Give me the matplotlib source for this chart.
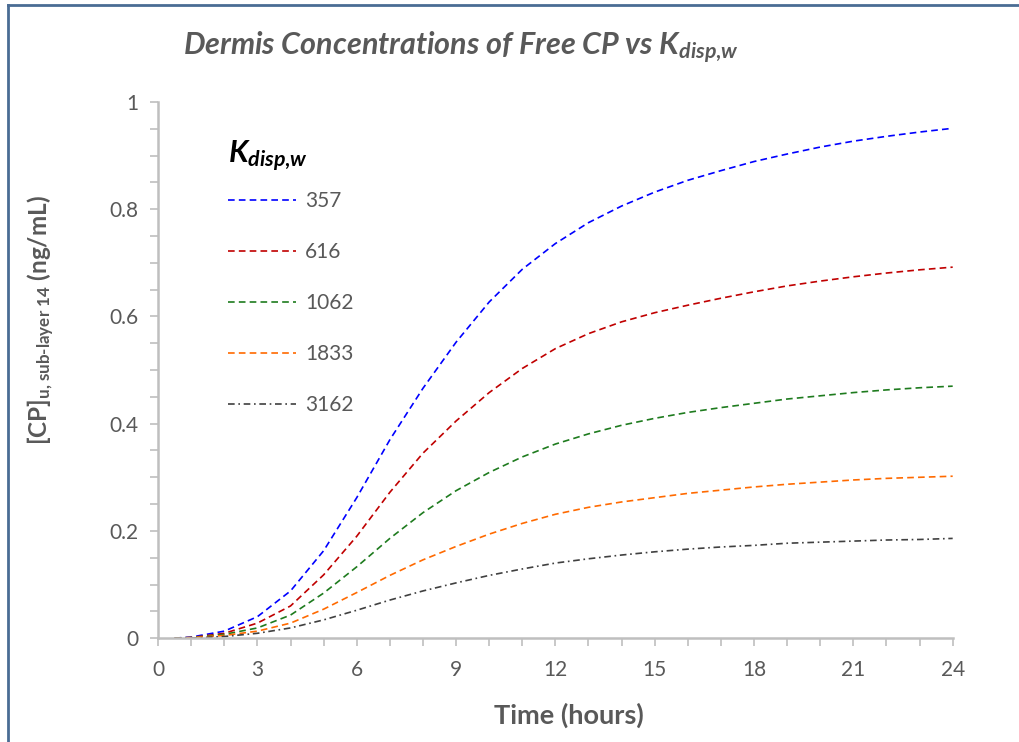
#!/usr/bin/env python3
# -*- coding: utf-8 -*-
import matplotlib
matplotlib.use('Agg')
import matplotlib.pyplot as plt
from matplotlib.lines import Line2D
from matplotlib.ticker import MultipleLocator, FuncFormatter

# time points (hours) and free CP concentration in dermis sub-layer 14 (ng/mL)
hours = [0.5] + list(range(1, 25))
kdisp_labels = ['357', '616', '1062', '1833', '3162']

cp_357 = [0, 0.002, 0.013, 0.040, 0.088, 0.163, 0.262, 0.370, 0.466, 0.552, 0.627,
          0.688, 0.736, 0.775, 0.806, 0.832, 0.854, 0.872, 0.889, 0.903, 0.916,
          0.927, 0.936, 0.944, 0.951]
cp_616 = [0, 0.001, 0.009, 0.028, 0.060, 0.118, 0.190, 0.272, 0.345, 0.405, 0.458,
          0.503, 0.540, 0.568, 0.590, 0.607, 0.621, 0.634, 0.646, 0.657, 0.666,
          0.674, 0.681, 0.687, 0.692]
cp_1062 = [0, 0.001, 0.007, 0.019, 0.043, 0.084, 0.133, 0.186, 0.234, 0.275, 0.309,
           0.338, 0.362, 0.381, 0.397, 0.410, 0.421, 0.430, 0.438, 0.446, 0.452,
           0.458, 0.463, 0.467, 0.470]
cp_1833 = [0, 0.001, 0.005, 0.013, 0.028, 0.054, 0.085, 0.117, 0.146, 0.171, 0.194,
           0.214, 0.231, 0.244, 0.254, 0.262, 0.270, 0.276, 0.282, 0.287, 0.291,
           0.295, 0.298, 0.300, 0.302]
cp_3162 = [0, 0.0, 0.003, 0.009, 0.019, 0.034, 0.052, 0.071, 0.088, 0.103, 0.117,
           0.129, 0.140, 0.148, 0.155, 0.161, 0.166, 0.170, 0.173, 0.177, 0.179,
           0.181, 0.183, 0.184, 0.186]

series = [cp_357, cp_616, cp_1062, cp_1833, cp_3162]
colors = ['#0000FF', '#C00000', '#1E7B1E', '#FF6A00', '#404040']
dashes = [(4, 2.5), (4, 2.5), (4, 2.5), (4, 2.5), (4, 2.2, 1, 2.2)]

gray_txt = '#595959'
plt.rcParams['font.family'] = ['Lato', 'DejaVu Sans']
plt.rcParams['mathtext.fontset'] = 'custom'
plt.rcParams['mathtext.rm'] = 'Lato:bold'
plt.rcParams['mathtext.bf'] = 'Lato:bold'
plt.rcParams['mathtext.it'] = 'Lato:bold:italic'

fig = plt.figure(figsize=(10.2, 7.42), dpi=100)
ax = fig.add_axes([0.155, 0.140, 0.779, 0.7225])

for y, c, d, lab in zip(series, colors, dashes, kdisp_labels):
    ax.plot(hours, y, color=c, lw=1.2, dashes=d, label=lab)

ax.set_xlim(0, 24)
ax.set_ylim(0, 1)
ax.xaxis.set_major_locator(MultipleLocator(3))
ax.xaxis.set_minor_locator(MultipleLocator(1))
ax.yaxis.set_major_locator(MultipleLocator(0.2))
ax.yaxis.set_minor_locator(MultipleLocator(0.05))
ax.yaxis.set_major_formatter(FuncFormatter(lambda v, p: f'{v:g}'))

for s in ['top', 'right']:
    ax.spines[s].set_visible(False)
for s in ['left', 'bottom']:
    ax.spines[s].set_color('#BFBFBF')
    ax.spines[s].set_linewidth(1.8)
ax.tick_params(which='both', direction='out', color='#BFBFBF', width=1.2, length=6)
ax.tick_params(which='major', labelsize=15, labelcolor=gray_txt, pad=8)
ax.tick_params(axis='x', which='major', pad=10)

ax.set_xlabel('Time (hours)', fontsize=19.5, fontweight='bold', color=gray_txt)
ax.xaxis.set_label_coords(0.517, -0.121)
ax.set_ylabel(r'[CP]$_{\text{u, sub-layer 14}}$ (ng/mL)', fontsize=17.5,
              fontweight='bold', color=gray_txt)
ax.yaxis.set_label_coords(-0.127, 0.593)

fig.text(0.452, 0.935, r'Dermis Concentrations of Free CP vs K$_{\mathit{disp{,}w}}$',
         ha='center', va='center', fontsize=22, fontweight='bold', style='italic',
         color=gray_txt)

leg = ax.legend(loc='upper left', bbox_to_anchor=(0.064, 0.966), frameon=False,
                fontsize=15, handlelength=3.3, handletextpad=0.4, labelspacing=1.49,
                title=r'K$_{\mathit{disp{,}w}}$',
                title_fontproperties={'size': 22, 'weight': 'bold', 'style': 'italic'})
leg._legend_box.align = 'left'
leg._legend_box.sep = 12
for t in leg.get_texts():
    t.set_color(gray_txt)

# outer frame of the pasted chart
fig.add_artist(Line2D([8/1020, 8/1020], [0, 1 - 5/742], transform=fig.transFigure,
                      color='#4A6C94', lw=2))
fig.add_artist(Line2D([8/1020, 1], [1 - 5/742, 1 - 5/742], transform=fig.transFigure,
                      color='#4A6C94', lw=2))

fig.savefig('out.png', dpi=100)
